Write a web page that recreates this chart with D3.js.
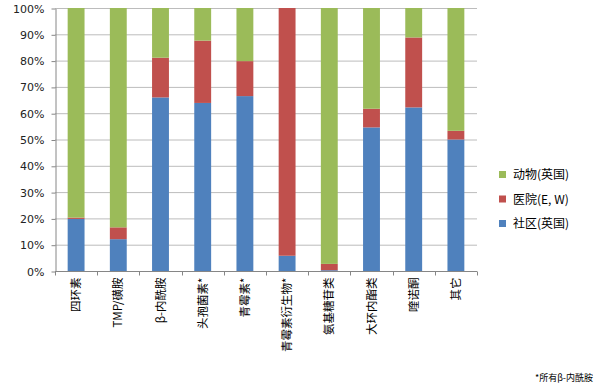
<!DOCTYPE html>
<meta charset="utf-8">
<style>
  body { margin: 0; background: #fff; }
  text { font-family: "DejaVu Sans", sans-serif; }
  .cjk { font-family: "Noto Sans CJK SC", "DejaVu Sans", sans-serif; }
</style>
<svg width="610" height="388"></svg>
<script src="https://d3js.org/d3.v7.min.js"></script>
<script>

var categories = ["四环素", "TMP/磺胺", "β-内酰胺", "头孢菌素*", "青霉素*", "青霉素衍生物*", "氨基糖苷类", "大环内酯类", "喹诺酮", "其它"];
var seriesNames = ["社区(英国)", "医院(E, W)", "动物(英国)"];
var community = [19.8, 12.1, 66.0, 63.9, 66.5, 5.8, 0.3, 54.6, 62.2, 50.0];
var hospital  = [0.5, 4.5, 15.1, 23.7, 13.3, 94.2, 2.4, 7.1, 26.6, 3.3];
var animal    = [79.7, 83.4, 18.9, 12.4, 20.2, 0, 97.3, 38.3, 11.2, 46.7];
var yTicks = [0, 10, 20, 30, 40, 50, 60, 70, 80, 90, 100];
var colors = ["#4f81bd", "#c0504d", "#9bbb59"];

var svg = d3.select("svg"),
    plotLeft = 55, plotRight = 477, plotTop = 8, plotBottom = 271;

var rows = categories.map(function(c, i) {
  return {cat: c, s0: community[i], s1: hospital[i], s2: animal[i]};
});
var layers = d3.stack().keys(["s0", "s1", "s2"])(rows);

var x = d3.scaleBand().domain(categories).range([plotLeft, plotRight]).paddingInner(0.6).paddingOuter(0.3);
var y = d3.scaleLinear().domain([0, 100]).range([plotBottom, plotTop]);

// gridlines
svg.append("g").selectAll("line")
  .data(yTicks.slice(1))
  .enter().append("line")
    .attr("x1", plotLeft).attr("x2", plotRight)
    .attr("y1", function(d) { return y(d) + 0.5; }).attr("y2", function(d) { return y(d) + 0.5; })
    .attr("stroke", "#bcbcbc");

// bars
svg.append("g").selectAll("g")
  .data(layers)
  .enter().append("g")
    .attr("fill", function(d, i) { return colors[i]; })
  .selectAll("rect")
  .data(function(d) { return d; })
  .enter().append("rect")
    .attr("x", function(d) { return x(d.data.cat); })
    .attr("width", x.bandwidth())
    .attr("y", function(d) { return y(d[1]); })
    .attr("height", function(d) { return y(d[0]) - y(d[1]); });

// y axis
var yAxis = svg.append("g")
  .attr("transform", "translate(" + (plotLeft + 0.5) + ",0.5)")
  .call(d3.axisLeft(y).tickValues(yTicks).tickSize(4).tickSizeOuter(0).tickPadding(7).tickFormat(function(d) { return d + "%"; }));
yAxis.select(".domain").attr("stroke", "#868686");
yAxis.selectAll(".tick line").attr("stroke", "#868686");
yAxis.selectAll("text").attr("font-size", 11).attr("fill", "#222").attr("font-family", "DejaVu Sans");

// x axis
var xg = svg.append("g").attr("transform", "translate(0," + (plotBottom + 0.5) + ")");
xg.append("line").attr("x1", plotLeft).attr("x2", plotRight).attr("stroke", "#868686");
xg.selectAll(".xt")
  .data(d3.range(categories.length + 1))
  .enter().append("line")
    .attr("x1", function(i) { return Math.round(plotLeft + i * x.step()) + 0.5; })
    .attr("x2", function(i) { return Math.round(plotLeft + i * x.step()) + 0.5; })
    .attr("y1", 0).attr("y2", 4)
    .attr("stroke", "#868686");
xg.selectAll(".xl")
  .data(categories)
  .enter().append("text")
    .attr("class", "cjk")
    .attr("transform", function(d) { return "translate(" + (x(d) + x.bandwidth() / 2 + 4) + ",6) rotate(-90)"; })
    .attr("text-anchor", "end")
    .attr("font-size", 11.5)
    .attr("fill", "#000")
    .text(function(d) { return d; });

// legend
var legend = svg.append("g").selectAll("g")
  .data([2, 1, 0])
  .enter().append("g")
    .attr("transform", function(d, i) { return "translate(499," + (171 + i * 24.5) + ")"; });
legend.append("rect")
  .attr("width", 7).attr("height", 7)
  .attr("fill", function(d) { return colors[d]; });
legend.append("text")
  .attr("class", "cjk")
  .attr("x", 14).attr("y", 8)
  .attr("font-size", 12)
  .attr("fill", "#000")
  .text(function(d) { return seriesNames[d]; });

// footnote
svg.append("text")
  .attr("class", "cjk")
  .attr("x", 593).attr("y", 381)
  .attr("text-anchor", "end")
  .attr("font-size", 9)
  .attr("fill", "#000")
  .text("*所有β-内酰胺");

</script>
